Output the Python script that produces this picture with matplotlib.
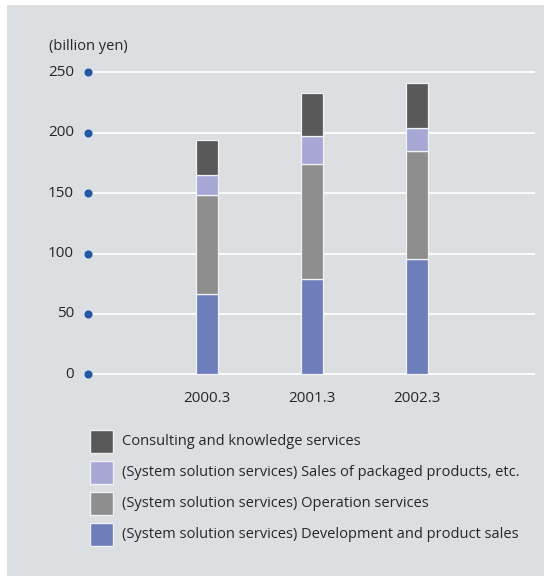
import matplotlib
matplotlib.use("Agg")
import matplotlib.pyplot as plt
import matplotlib.transforms as mtransforms
from matplotlib.patches import Rectangle
import numpy as np

plt.rcParams['font.family'] = ['Open Sans', 'DejaVu Sans']

# Fiscal years and revenue segments (billion yen)
years = ["2000.3", "2001.3", "2002.3"]
development = [66.4, 78.9, 95.4]
operation = [82.3, 95.5, 89.2]
packaged = [16.5, 23.1, 19.0]
consulting = [29.0, 35.6, 37.3]

series_labels = [
    "(System solution services) Development and product sales",
    "(System solution services) Operation services",
    "(System solution services) Sales of packaged products, etc.",
    "Consulting and knowledge services",
]
yticks = [0, 50, 100, 150, 200, 250]
unit_label = "(billion yen)"

colors = ["#6e7ebb", "#8e8e8e", "#a6a7d4", "#595959"]
panel_color = "#dcdfe2"
text_color = "#262626"
dot_color = "#2456a6"

W, H = 544, 577
fig = plt.figure(figsize=(W / 100, H / 100), dpi=100)
fig.patch.set_facecolor("white")

def fx(px):
    return px / W

def fy(py):
    return (H - py) / H

# grey panel
fig.add_artist(Rectangle((fx(7), fy(576)), fx(544) - fx(7), fy(5) - fy(576),
                         transform=fig.transFigure, facecolor=panel_color,
                         edgecolor="none", zorder=0))

ax = fig.add_axes([fx(93), fy(376.7), fx(535) - fx(93), fy(67.5) - fy(376.7)])
ax.set_facecolor("none")
ax.set_ylim(-2, 254)
ax.set_xlim(-1.086, 3.124)
for s in ax.spines.values():
    s.set_visible(False)
ax.set_xticks([])
ax.set_yticks([])

# horizontal grid lines
for t in yticks:
    ax.axhline(t, color="white", lw=1.3, zorder=1)

x = np.arange(len(years))
stack = [development, operation, packaged, consulting]
bottom = np.zeros(len(years))
for vals, c, lab in zip(stack, colors, series_labels):
    ax.bar(x, vals, width=0.21, bottom=bottom, color=c, edgecolor="#f2f3f5",
           linewidth=0.9, label=lab, zorder=2)
    bottom += np.array(vals)

# y tick labels with blue dots
trans = mtransforms.blended_transform_factory(ax.transAxes, ax.transData)
for t in yticks:
    ax.plot([-5 / 442], [t], "o", color=dot_color, ms=4.8, transform=trans,
            clip_on=False, zorder=3)
    ax.text(-19 / 442, t, str(t), transform=trans, ha="right", va="center",
            fontsize=11, color=text_color)

fig.text(fx(49), fy(47), unit_label, ha="left", va="center", fontsize=10.5,
         color=text_color)

# x labels under each bar
xtrans = mtransforms.blended_transform_factory(ax.transData, fig.transFigure)
for xi, yl in zip(x, years):
    ax.text(xi, fy(399), yl, transform=xtrans, ha="center", va="center",
            fontsize=11, color=text_color)

# legend (top row = top of stack)
row_y = [441.5, 472.5, 503.5, 534.5]
for i, (lab, c) in enumerate(zip(series_labels[::-1], colors[::-1])):
    cy = row_y[i]
    fig.add_artist(Rectangle((fx(90), fy(cy + 11.3)), fx(23), 22.6 / H,
                             transform=fig.transFigure, facecolor=c,
                             edgecolor="#eef0f3", linewidth=1.0, zorder=2))
    fig.text(fx(121.5), fy(cy), lab, ha="left", va="center", fontsize=10.55,
             color=text_color)

fig.savefig("out.png", dpi=100, facecolor=fig.get_facecolor())
